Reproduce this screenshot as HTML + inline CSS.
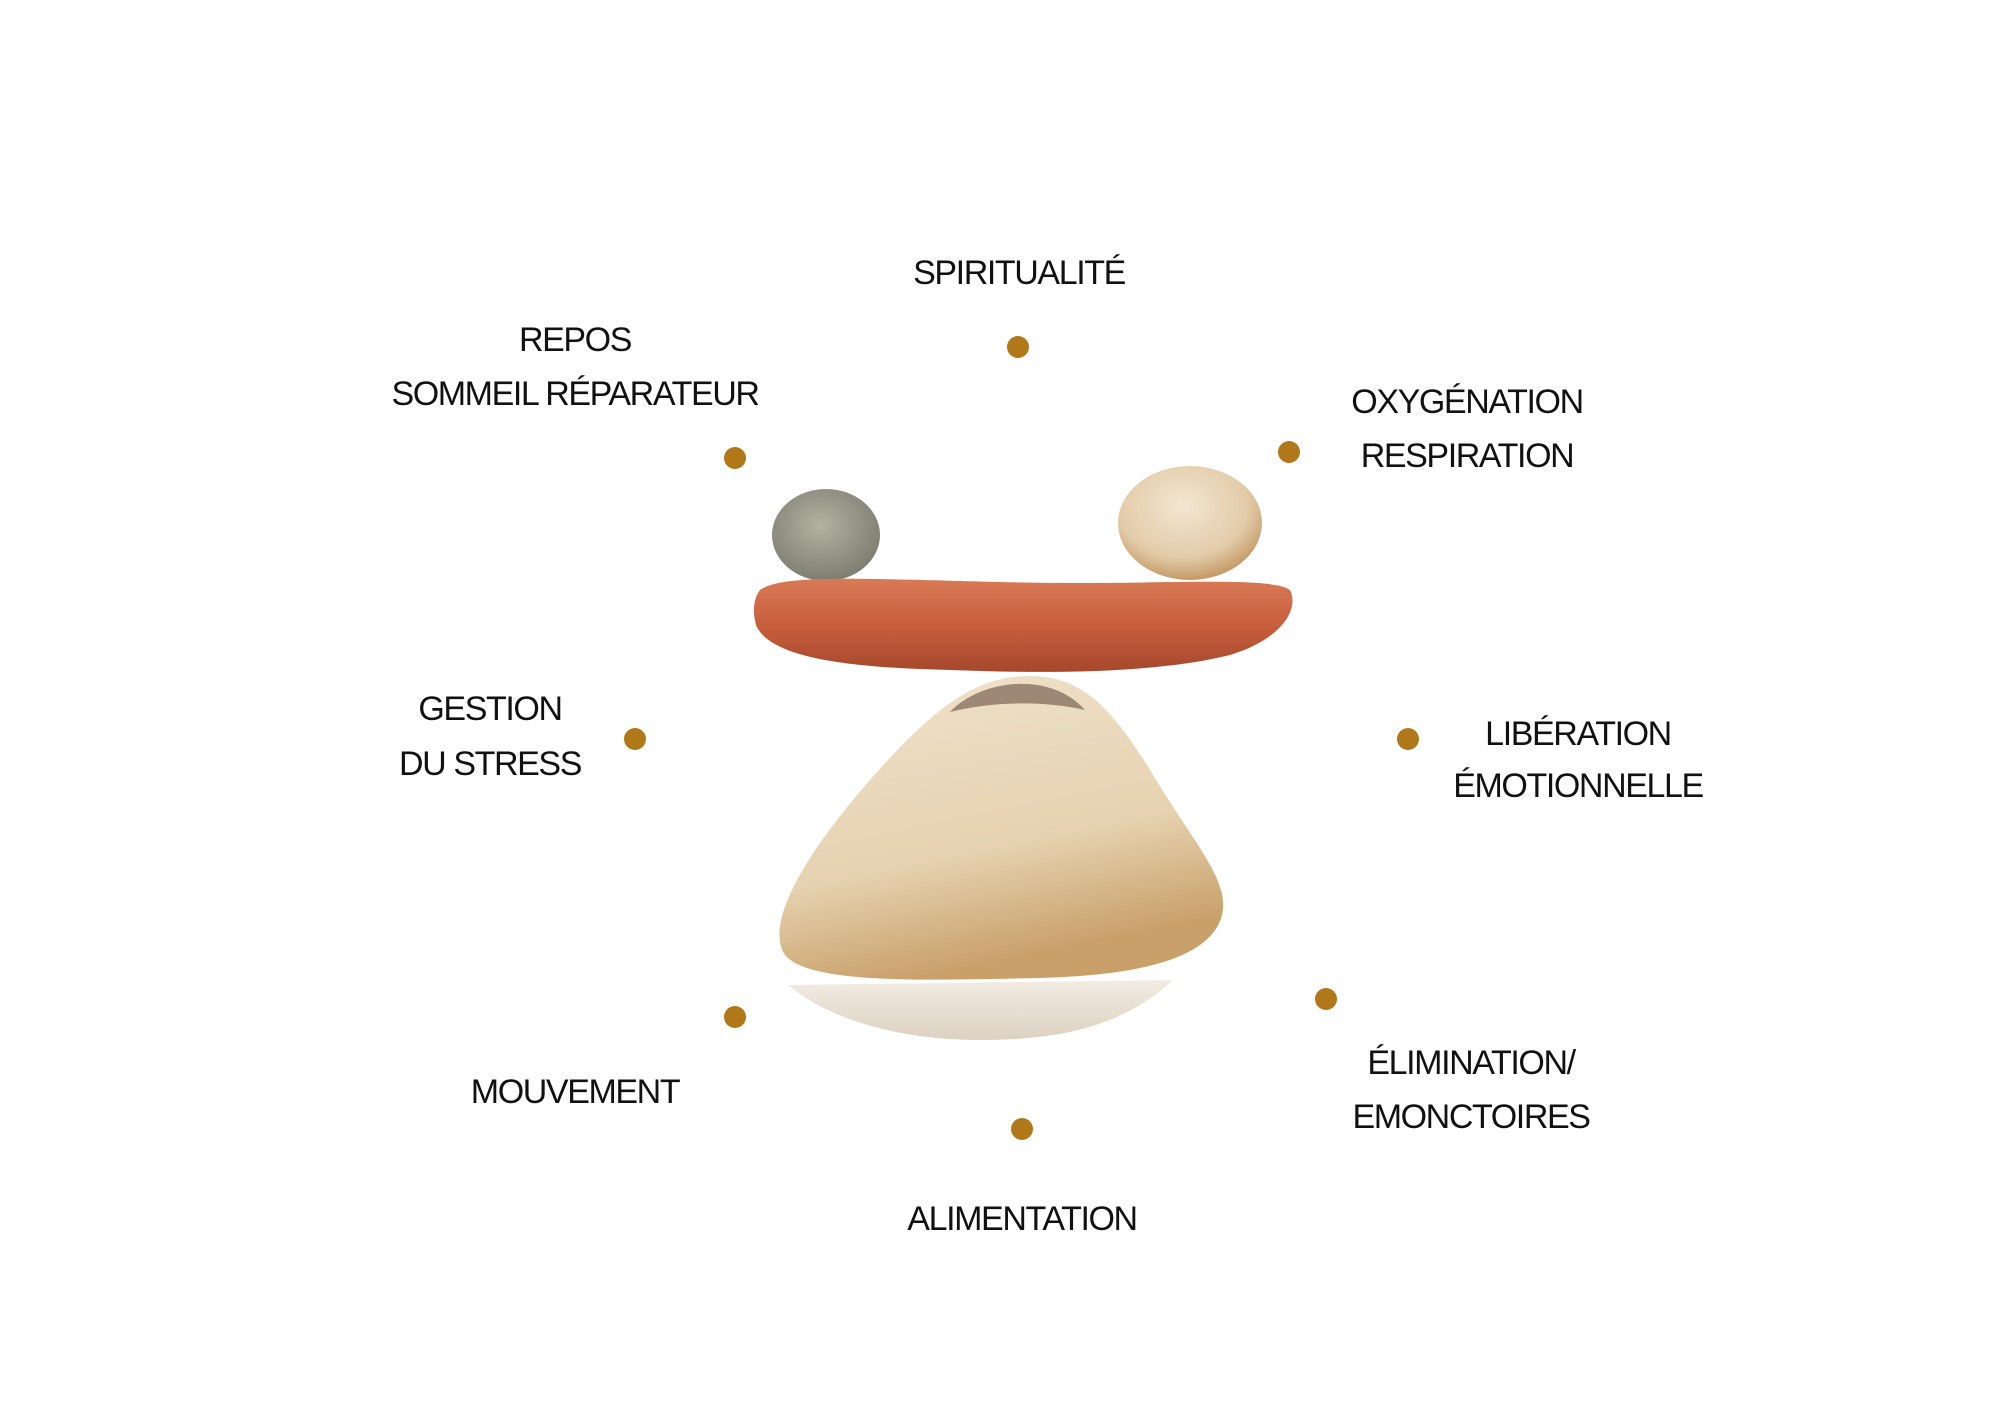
<!DOCTYPE html>
<html><head><meta charset="utf-8"><style>
html,body{margin:0;padding:0;background:#fff}
.w{position:relative;width:2000px;height:1414px;overflow:hidden;background:#fff}
.t{position:absolute;transform:translate(-50%,-50%);font-family:"Liberation Sans",sans-serif;font-size:34px;letter-spacing:-1.4px;color:#111;white-space:nowrap;line-height:1}
svg{position:absolute;left:0;top:0}
</style></head><body><div class="w">
<svg width="2000" height="1414" viewBox="0 0 2000 1414">
<defs>
<radialGradient id="g1" cx="0.45" cy="0.4" r="0.6"><stop offset="0" stop-color="#b2b2a2"/><stop offset="1" stop-color="#7e7f72"/></radialGradient>
<radialGradient id="g2" cx="0.45" cy="0.35" r="0.65"><stop offset="0" stop-color="#f3e6d2"/><stop offset="0.7" stop-color="#e2cba8"/><stop offset="1" stop-color="#c59a68"/></radialGradient>
<linearGradient id="g3" x1="0" y1="0" x2="0" y2="1"><stop offset="0" stop-color="#d87a56"/><stop offset="0.5" stop-color="#c85e3c"/><stop offset="1" stop-color="#a5482c"/></linearGradient>
<linearGradient id="g4" x1="0" y1="0" x2="0.3" y2="1"><stop offset="0" stop-color="#efe2cc"/><stop offset="0.65" stop-color="#e6d2b0"/><stop offset="1" stop-color="#c9a06a"/></linearGradient>
<linearGradient id="g5" x1="0" y1="0" x2="0" y2="1"><stop offset="0" stop-color="#f2ece4"/><stop offset="1" stop-color="#ddd1c0"/></linearGradient>
</defs>
<ellipse cx="826" cy="535" rx="54" ry="46" fill="url(#g1)"/>
<ellipse cx="1190" cy="523" rx="72" ry="57" fill="url(#g2)"/>
<path d="M760 590 C780 575,850 578,1000 582 C1150 586,1270 575,1290 590 C1300 610,1280 640,1230 655 C1150 675,1030 673,950 670 C860 668,770 660,756 625 C752 610,754 598,760 590 Z" fill="url(#g3)"/>
<path d="M1030 676 C1080 676,1110 705,1150 770 C1195 845,1230 880,1222 915 C1212 955,1150 975,1040 978 C930 980,810 985,785 955 C765 925,800 860,870 780 C940 700,980 676,1030 676 Z" fill="url(#g4)"/>
<path d="M950 712 C980 680,1050 670,1085 710 C1040 700,990 702,950 712 Z" fill="#9c8874"/>
<path d="M788 985 L1173 980 C1120 1030,1050 1040,980 1040 C900 1040,830 1020,788 985 Z" fill="url(#g5)"/>
<g fill="#b07818">
<circle cx="1018" cy="347" r="11"/><circle cx="735" cy="458" r="11"/><circle cx="1289" cy="452" r="11"/>
<circle cx="635" cy="739" r="11"/><circle cx="1408" cy="739" r="11"/><circle cx="735" cy="1017" r="11"/>
<circle cx="1326" cy="999" r="11"/><circle cx="1022" cy="1129" r="11"/>
</g>
</svg>
<div class="t" style="left:1019px;top:273px">SPIRITUALITÉ</div>
<div class="t" style="left:575px;top:340px">REPOS</div>
<div class="t" style="left:575px;top:394px">SOMMEIL RÉPARATEUR</div>
<div class="t" style="left:1467px;top:402px">OXYGÉNATION</div>
<div class="t" style="left:1467px;top:456px">RESPIRATION</div>
<div class="t" style="left:490px;top:709px">GESTION</div>
<div class="t" style="left:490px;top:764px">DU STRESS</div>
<div class="t" style="left:1578px;top:734px">LIBÉRATION</div>
<div class="t" style="left:1578px;top:786px">ÉMOTIONNELLE</div>
<div class="t" style="left:575px;top:1092px">MOUVEMENT</div>
<div class="t" style="left:1471px;top:1063px">ÉLIMINATION/</div>
<div class="t" style="left:1471px;top:1117px">EMONCTOIRES</div>
<div class="t" style="left:1022px;top:1219px">ALIMENTATION</div>
</div></body></html>
